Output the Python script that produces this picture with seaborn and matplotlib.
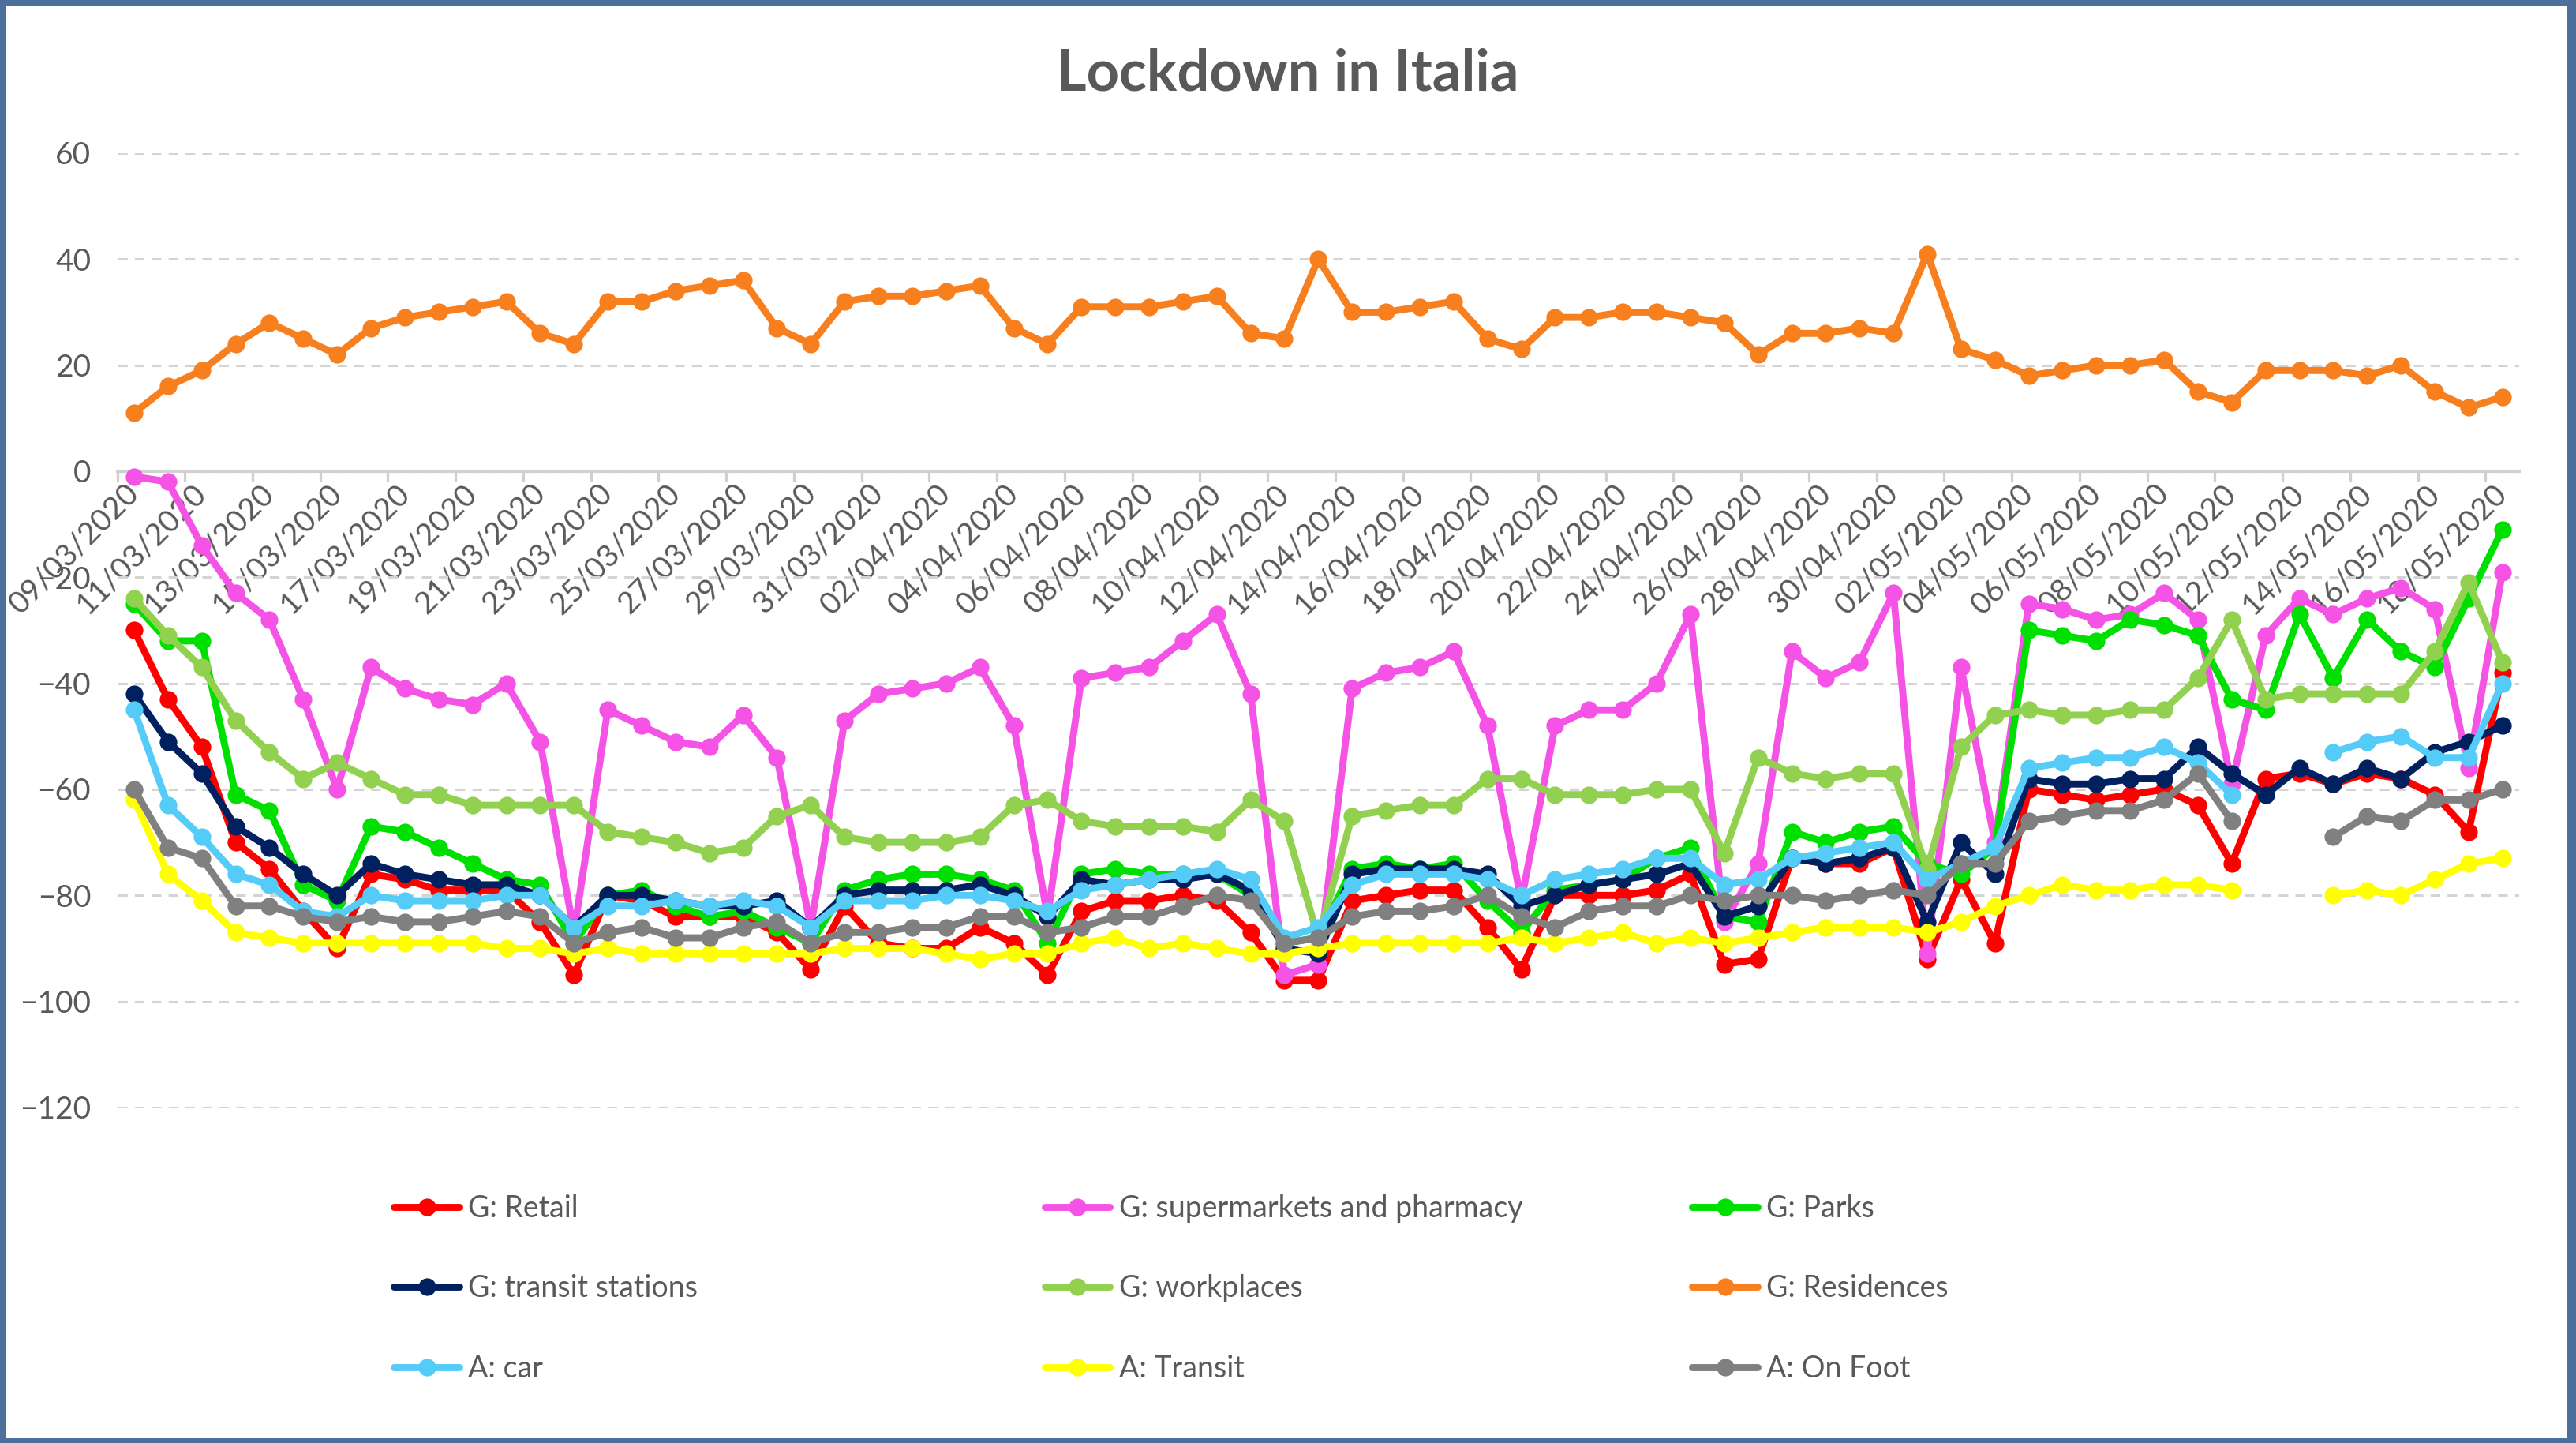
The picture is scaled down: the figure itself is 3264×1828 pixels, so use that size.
import numpy as np
import pandas as pd
import matplotlib
matplotlib.use("Agg")
import matplotlib.pyplot as plt
import seaborn as sns
from matplotlib.lines import Line2D
from matplotlib.patches import Rectangle

# Daily categories: 09/03/2020 .. 18/05/2020
dates = pd.date_range("2020-03-09", "2020-05-18", freq="D")
date_labels = [d.strftime("%d/%m/%Y") for d in dates]
na = np.nan

retail = [-30, -43, -52, -70, -75, -83, -90, -76, -77, -79, -79, -79,
          -85, -95, -80, -81, -84, -84, -84, -87, -94, -82, -89, -90,
          -90, -86, -89, -95, -83, -81, -81, -80, -81, -87, -96, -96,
          -81, -80, -79, -79, -86, -94, -80, -80, -80, -79, -76, -93,
          -92, -73, -74, -74, -71, -92, -77, -89, -60, -61, -62, -61,
          -60, -63, -74, -58, -57, -59, -57, -58, -61, -68, -38]

supermarkets = [-1, -2, -14, -23, -28, -43, -60, -37, -41, -43, -44, -40,
                -51, -87, -45, -48, -51, -52, -46, -54, -86, -47, -42, -41,
                -40, -37, -48, -84, -39, -38, -37, -32, -27, -42, -95, -93,
                -41, -38, -37, -34, -48, -81, -48, -45, -45, -40, -27, -85,
                -74, -34, -39, -36, -23, -91, -37, -70, -25, -26, -28, -27,
                -23, -28, -59, -31, -24, -27, -24, -22, -26, -56, -19]

parks = [-25, -32, -32, -61, -64, -78, -81, -67, -68, -71, -74, -77,
         -78, -89, -80, -79, -82, -84, -83, -86, -89, -79, -77, -76,
         -76, -77, -79, -89, -76, -75, -76, -76, -76, -80, -89, -88,
         -75, -74, -75, -74, -81, -87, -79, -78, -77, -73, -71, -84,
         -85, -68, -70, -68, -67, -74, -76, -71, -30, -31, -32, -28,
         -29, -31, -43, -45, -27, -39, -28, -34, -37, -24, -11]

transit_stations = [-42, -51, -57, -67, -71, -76, -80, -74, -76, -77, -78, -78,
                    -80, -86, -80, -80, -81, -82, -82, -81, -86, -80, -79, -79,
                    -79, -78, -80, -84, -77, -78, -77, -77, -76, -79, -90, -91,
                    -76, -75, -75, -75, -76, -82, -80, -78, -77, -76, -74, -84,
                    -82, -73, -74, -73, -71, -85, -70, -76, -58, -59, -59, -58,
                    -58, -52, -57, -61, -56, -59, -56, -58, -53, -51, -48]

workplaces = [-24, -31, -37, -47, -53, -58, -55, -58, -61, -61, -63, -63,
              -63, -63, -68, -69, -70, -72, -71, -65, -63, -69, -70, -70,
              -70, -69, -63, -62, -66, -67, -67, -67, -68, -62, -66, -88,
              -65, -64, -63, -63, -58, -58, -61, -61, -61, -60, -60, -72,
              -54, -57, -58, -57, -57, -75, -52, -46, -45, -46, -46, -45,
              -45, -39, -28, -43, -42, -42, -42, -42, -34, -21, -36]

residences = [11, 16, 19, 24, 28, 25, 22, 27, 29, 30, 31, 32,
              26, 24, 32, 32, 34, 35, 36, 27, 24, 32, 33, 33,
              34, 35, 27, 24, 31, 31, 31, 32, 33, 26, 25, 40,
              30, 30, 31, 32, 25, 23, 29, 29, 30, 30, 29, 28,
              22, 26, 26, 27, 26, 41, 23, 21, 18, 19, 20, 20,
              21, 15, 13, 19, 19, 19, 18, 20, 15, 12, 14]

car = [-45, -63, -69, -76, -78, -83, -84, -80, -81, -81, -81, -80,
       -80, -86, -82, -82, -81, -82, -81, -82, -86, -81, -81, -81,
       -80, -80, -81, -83, -79, -78, -77, -76, -75, -77, -88, -86,
       -78, -76, -76, -76, -77, -80, -77, -76, -75, -73, -73, -78,
       -77, -73, -72, -71, -70, -77, -74, -71, -56, -55, -54, -54,
       -52, -55, -61, na, na, -53, -51, -50, -54, -54, -40]

transit = [-62, -76, -81, -87, -88, -89, -89, -89, -89, -89, -89, -90,
           -90, -91, -90, -91, -91, -91, -91, -91, -91, -90, -90, -90,
           -91, -92, -91, -91, -89, -88, -90, -89, -90, -91, -91, -90,
           -89, -89, -89, -89, -89, -88, -89, -88, -87, -89, -88, -89,
           -88, -87, -86, -86, -86, -87, -85, -82, -80, -78, -79, -79,
           -78, -78, -79, na, na, -80, -79, -80, -77, -74, -73]

on_foot = [-60, -71, -73, -82, -82, -84, -85, -84, -85, -85, -84, -83,
           -84, -89, -87, -86, -88, -88, -86, -85, -89, -87, -87, -86,
           -86, -84, -84, -87, -86, -84, -84, -82, -80, -81, -89, -88,
           -84, -83, -83, -82, -80, -84, -86, -83, -82, -82, -80, -81,
           -80, -80, -81, -80, -79, -80, -74, -74, -66, -65, -64, -64,
           -62, -57, -66, na, na, -69, -65, -66, -62, -62, -60]

series_names = ["G: Retail", "G: supermarkets and pharmacy", "G: Parks",
                "G: transit stations", "G: workplaces", "G: Residences",
                "A: car", "A: Transit", "A: On Foot"]
series_values = [retail, supermarkets, parks, transit_stations, workplaces,
                 residences, car, transit, on_foot]
series_colors = ["#FF0000", "#F552E6", "#00E000", "#002060", "#92D050",
                 "#F77F1E", "#55CCF7", "#FFFF00", "#808080"]

sns.set_theme(style="white")
plt.rcParams["font.family"] = ["Lato", "DejaVu Sans"]

TEXT = "#595959"
LW = 3.2
MS = 8

fig = plt.figure(figsize=(16.32, 9.14), dpi=200, facecolor="#4D6F9B")
fig.patches.append(Rectangle((8 / 3264, 6 / 1828), (3252 - 8) / 3264, (1820 - 6) / 1828,
                             transform=fig.transFigure, facecolor="white",
                             edgecolor="none", zorder=-5))
ax = fig.add_axes([0.0455, 0.2325, 0.9325, 0.6614])
ax.set_facecolor("white")

# One line per series; missing days split a series into separate segments
for k, (name, vals, color) in enumerate(zip(series_names, series_values, series_colors)):
    df = pd.DataFrame({"day": np.arange(len(vals)), "value": vals})
    df["seg"] = df["value"].isna().cumsum()
    df = df.dropna()
    for _, part in df.groupby("seg"):
        sns.lineplot(data=part, x="day", y="value", ax=ax, color=color,
                     linewidth=LW, marker="o", markersize=MS,
                     markeredgewidth=0, errorbar=None, legend=False,
                     zorder=3 + k)

ax.set_xlabel("")
ax.set_ylabel("")
ax.set_xlim(-0.5, len(date_labels) - 0.5)
ax.set_ylim(-120, 60)
ax.set_yticks(range(-120, 61, 20))
ax.yaxis.grid(True, color="#D4D4D4", linestyle=(0, (4, 3)), linewidth=1.1)
ax.xaxis.grid(False)
ax.set_axisbelow(True)

for s in ["top", "right", "left"]:
    ax.spines[s].set_visible(False)
ax.spines["bottom"].set_position(("data", 0))
ax.spines["bottom"].set_color("#D0D0D0")
ax.spines["bottom"].set_linewidth(1.5)
ax.spines["bottom"].set_zorder(2)

ax.set_xticks(range(0, len(date_labels), 2))
ax.set_xticklabels(date_labels[::2], rotation=45, ha="right", va="center",
                   rotation_mode="anchor")
ax.set_xticks(np.arange(-0.5, len(date_labels) - 1, 2), minor=True)
ax.tick_params(axis="x", which="major", length=0, pad=8, labelsize=14,
               labelcolor=TEXT)
ax.tick_params(axis="x", which="minor", length=4.5, width=1.2,
               color="#D0D0D0", direction="out", bottom=True)
ax.tick_params(axis="y", length=0, pad=12, labelsize=14, labelcolor=TEXT)

fig.text(0.5, 0.9486, "Lockdown in Italia", ha="center", va="center",
         fontsize=26, fontweight="bold", color=TEXT)

# Legend laid out as three fixed columns, filled row by row
handles = {n: Line2D([], [], color=c, linewidth=LW, marker="o", markersize=MS,
                     markeredgewidth=0)
           for n, c in zip(series_names, series_colors)}
columns = [series_names[0::3], series_names[1::3], series_names[2::3]]
col_x = [0.153, 0.4056, 0.657]
for x, names in zip(col_x, columns):
    fig.legend([handles[n] for n in names], names, loc="upper left",
               bbox_to_anchor=(x, 0.1725), frameon=False, fontsize=13.5,
               labelcolor=TEXT, handlelength=2.2, handletextpad=0.3,
               labelspacing=1.75, borderpad=0, borderaxespad=0)

fig.savefig("out.png", dpi=200, facecolor=fig.get_facecolor())
